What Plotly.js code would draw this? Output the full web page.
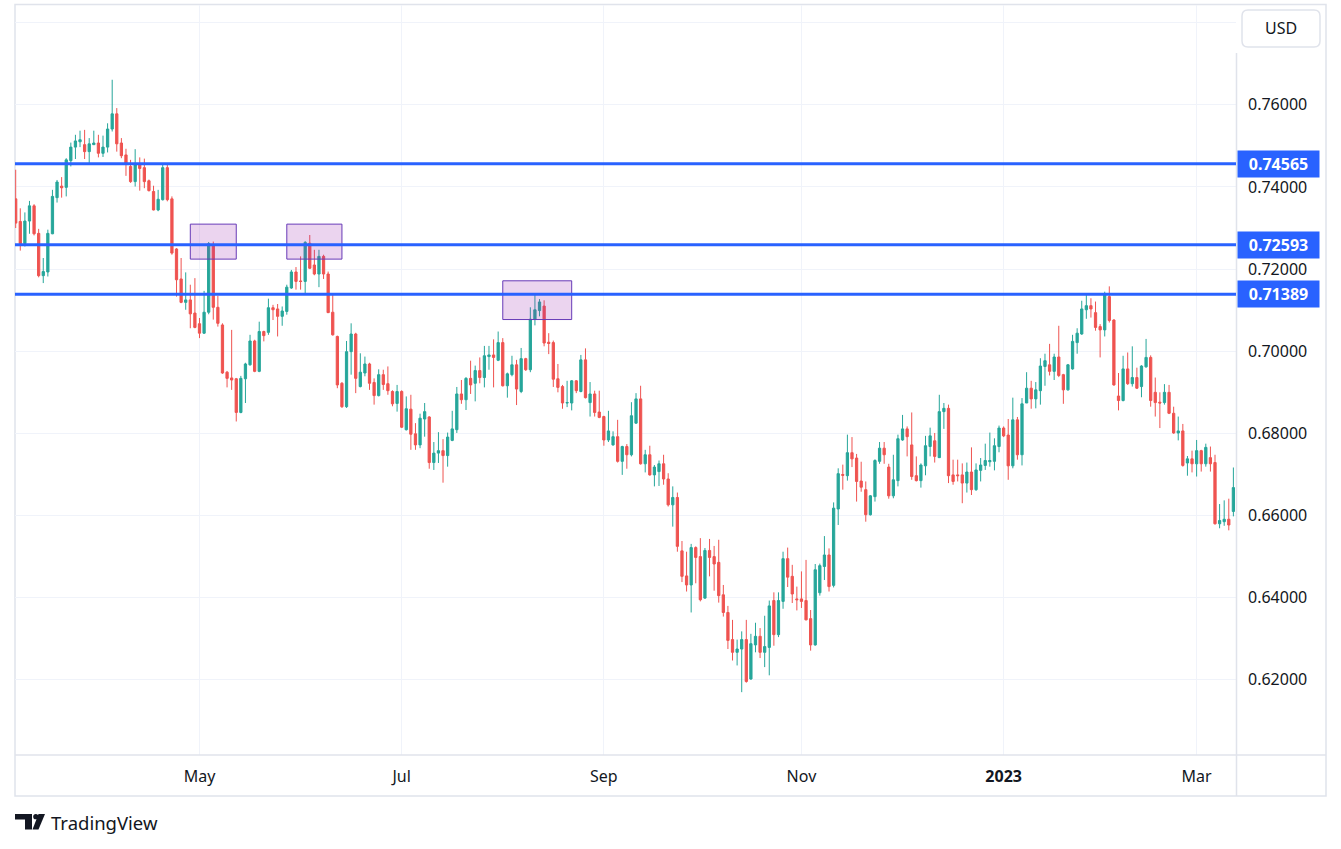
<!DOCTYPE html>
<html>
<head>
<meta charset="utf-8">
<script src="https://cdn.plot.ly/plotly-3.0.1.min.js"></script>
<style>
  html, body { margin: 0; padding: 0; background: #ffffff; }
  #chart { width: 1341px; height: 849px; }
</style>
</head>
<body>
<div id="chart"></div>
<script>
// AUD/USD daily candles, weekdays from 7 Mar 2022 to 13 Mar 2023
const firstDay = '2022-03-07';

const open = [
  // Mar 2022
  0.7371, 0.7316, 0.7262, 0.7317, 0.7354, 0.7287, 0.7184, 0.7193, 0.7286, 0.7374, 0.7402, 0.7399, 0.7464, 0.7497, 0.7510, 0.7503, 0.7486, 0.7503, 0.7507,
  // Apr
  0.7482, 0.7497, 0.7541, 0.7578, 0.7507, 0.7478, 0.7450, 0.7413, 0.7454, 0.7447, 0.7415, 0.7389, 0.7344, 0.7369, 0.7447, 0.7371, 0.7249, 0.7176, 0.7119, 0.7125, 0.7093,
  // May
  0.7067, 0.7044, 0.7095, 0.7257, 0.7107, 0.7064, 0.6949, 0.6935, 0.6933, 0.6851, 0.6933, 0.6967, 0.7025, 0.6951, 0.7048, 0.7046, 0.7106, 0.7103, 0.7085, 0.7097, 0.7154, 0.7193,
  // Jun
  0.7171, 0.7170, 0.7263, 0.7210, 0.7188, 0.7231, 0.7188, 0.7095, 0.7036, 0.6922, 0.6865, 0.6999, 0.7042, 0.6914, 0.6947, 0.6969, 0.6924, 0.6892, 0.6943, 0.6921, 0.6902, 0.6873,
  // Jul
  0.6902, 0.6809, 0.6859, 0.6799, 0.6772, 0.6835, 0.6840, 0.6729, 0.6752, 0.6758, 0.6746, 0.6783, 0.6809, 0.6896, 0.6882, 0.6934, 0.6922, 0.6953, 0.6936, 0.6987, 0.6991,
  // Aug
  0.6978, 0.7021, 0.6916, 0.6943, 0.6967, 0.6902, 0.6982, 0.6955, 0.7078, 0.7099, 0.7110, 0.7022, 0.7021, 0.6933, 0.6914, 0.6874, 0.6874, 0.6928, 0.6902, 0.6979, 0.6875, 0.6896, 0.6852,
  // Sep
  0.6841, 0.6784, 0.6772, 0.6792, 0.6732, 0.6768, 0.6748, 0.6825, 0.6884, 0.6726, 0.6748, 0.6699, 0.6707, 0.6726, 0.6689, 0.6626, 0.6644, 0.6514, 0.6453, 0.6431, 0.6522, 0.6500,
  // Oct
  0.6399, 0.6515, 0.6500, 0.6486, 0.6407, 0.6364, 0.6298, 0.6267, 0.6275, 0.6298, 0.6202, 0.6285, 0.6306, 0.6267, 0.6279, 0.6393, 0.6310, 0.6391, 0.6495, 0.6452, 0.6397,
  // Nov
  0.6397, 0.6393, 0.6349, 0.6285, 0.6412, 0.6476, 0.6504, 0.6430, 0.6616, 0.6700, 0.6697, 0.6753, 0.6740, 0.6684, 0.6663, 0.6602, 0.6646, 0.6732, 0.6764, 0.6718, 0.6648, 0.6685,
  // Dec
  0.6784, 0.6811, 0.6772, 0.6697, 0.6685, 0.6721, 0.6768, 0.6782, 0.6741, 0.6853, 0.6861, 0.6699, 0.6699, 0.6699, 0.6679, 0.6706, 0.6663, 0.6710, 0.6722, 0.6731, 0.6732, 0.6768,
  // Jan 2023
  0.6813, 0.6796, 0.6721, 0.6833, 0.6748, 0.6874, 0.6910, 0.6884, 0.6904, 0.6963, 0.6967, 0.6951, 0.6986, 0.6943, 0.6906, 0.6957, 0.7021, 0.7042, 0.7101, 0.7111, 0.7094, 0.7060,
  // Feb
  0.7052, 0.7133, 0.7076, 0.6891, 0.6880, 0.6957, 0.6921, 0.6936, 0.6914, 0.6962, 0.6985, 0.6900, 0.6876, 0.6875, 0.6900, 0.6849, 0.6801, 0.6806, 0.6728, 0.6738,
  // Mar
  0.6726, 0.6758, 0.6726, 0.6741, 0.6729, 0.6580, 0.6585, 0.6591, 0.6610
];

const high = [
  0.7442, 0.7348, 0.7338, 0.7366, 0.7358, 0.7298, 0.7227, 0.7296, 0.7393, 0.7417, 0.7424, 0.7470, 0.7508, 0.7527, 0.7537, 0.7539, 0.7519, 0.7537, 0.7527,
  0.7525, 0.7555, 0.7661, 0.7592, 0.7519, 0.7493, 0.7466, 0.7492, 0.7472, 0.7469, 0.7418, 0.7403, 0.7393, 0.7456, 0.7458, 0.7377, 0.7251, 0.7227, 0.7192, 0.7162, 0.7178,
  0.7081, 0.7147, 0.7266, 0.7267, 0.7135, 0.7068, 0.6952, 0.7052, 0.6935, 0.6940, 0.6972, 0.7040, 0.7028, 0.7072, 0.7050, 0.7128, 0.7113, 0.7115, 0.7109, 0.7162, 0.7198, 0.7205,
  0.7231, 0.7268, 0.7283, 0.7247, 0.7247, 0.7235, 0.7194, 0.7137, 0.7038, 0.6925, 0.7025, 0.7068, 0.7045, 0.6995, 0.6987, 0.6972, 0.6934, 0.6956, 0.6955, 0.6963, 0.6905, 0.6918,
  0.6905, 0.6890, 0.6894, 0.6825, 0.6848, 0.6874, 0.6842, 0.6779, 0.6803, 0.6786, 0.6802, 0.6855, 0.6913, 0.6930, 0.6937, 0.6977, 0.6965, 0.6985, 0.7013, 0.7013, 0.7029,
  0.7048, 0.7032, 0.6948, 0.6989, 0.6979, 0.7008, 0.6984, 0.7107, 0.7137, 0.7127, 0.7124, 0.7044, 0.7026, 0.6969, 0.6918, 0.6928, 0.6930, 0.6930, 0.6991, 0.7007, 0.6925, 0.6904, 0.6904,
  0.6843, 0.6855, 0.6805, 0.6833, 0.6770, 0.6774, 0.6876, 0.6898, 0.6916, 0.6760, 0.6770, 0.6723, 0.6734, 0.6748, 0.6703, 0.6671, 0.6656, 0.6538, 0.6512, 0.6531, 0.6525, 0.6545,
  0.6521, 0.6543, 0.6526, 0.6541, 0.6431, 0.6380, 0.6346, 0.6298, 0.6318, 0.6346, 0.6312, 0.6339, 0.6326, 0.6356, 0.6393, 0.6413, 0.6413, 0.6512, 0.6522, 0.6480, 0.6427,
  0.6464, 0.6492, 0.6370, 0.6482, 0.6483, 0.6550, 0.6520, 0.6632, 0.6715, 0.6724, 0.6797, 0.6791, 0.6750, 0.6731, 0.6683, 0.6650, 0.6737, 0.6779, 0.6779, 0.6726, 0.6748, 0.6797,
  0.6845, 0.6817, 0.6851, 0.6744, 0.6727, 0.6794, 0.6814, 0.6801, 0.6894, 0.6874, 0.6870, 0.6736, 0.6736, 0.6727, 0.6729, 0.6766, 0.6727, 0.6740, 0.6775, 0.6802, 0.6788, 0.6819,
  0.6817, 0.6835, 0.6887, 0.6840, 0.6886, 0.6949, 0.6928, 0.6925, 0.6983, 0.6994, 0.7018, 0.6994, 0.7062, 0.6945, 0.6969, 0.7040, 0.7056, 0.7123, 0.7141, 0.7129, 0.7121, 0.7066,
  0.7145, 0.7158, 0.7078, 0.6947, 0.6989, 0.6997, 0.7012, 0.6960, 0.6966, 0.7030, 0.6990, 0.6936, 0.6900, 0.6920, 0.6918, 0.6865, 0.6841, 0.6823, 0.6745, 0.6758,
  0.6784, 0.6760, 0.6775, 0.6768, 0.6748, 0.6628, 0.6637, 0.6641, 0.6717
];

const low = [
  0.7300, 0.7245, 0.7255, 0.7286, 0.7282, 0.7180, 0.7166, 0.7182, 0.7285, 0.7362, 0.7374, 0.7377, 0.7450, 0.7468, 0.7497, 0.7468, 0.7458, 0.7502, 0.7472,
  0.7473, 0.7484, 0.7535, 0.7486, 0.7470, 0.7427, 0.7410, 0.7401, 0.7391, 0.7397, 0.7389, 0.7343, 0.7341, 0.7367, 0.7365, 0.7235, 0.7133, 0.7117, 0.7101, 0.7056, 0.7056,
  0.7032, 0.7042, 0.7090, 0.7077, 0.7060, 0.6945, 0.6912, 0.6906, 0.6829, 0.6849, 0.6874, 0.6965, 0.6949, 0.6949, 0.7024, 0.7040, 0.7076, 0.7036, 0.7062, 0.7089, 0.7152, 0.7150,
  0.7150, 0.7139, 0.7200, 0.7185, 0.7156, 0.7176, 0.7093, 0.7038, 0.6910, 0.6862, 0.6862, 0.6943, 0.6898, 0.6912, 0.6939, 0.6906, 0.6870, 0.6890, 0.6906, 0.6894, 0.6866, 0.6853,
  0.6813, 0.6807, 0.6760, 0.6760, 0.6764, 0.6792, 0.6714, 0.6711, 0.6728, 0.6680, 0.6719, 0.6781, 0.6801, 0.6872, 0.6857, 0.6896, 0.6878, 0.6922, 0.6912, 0.6955, 0.6912,
  0.6976, 0.6914, 0.6887, 0.6939, 0.6869, 0.6898, 0.6952, 0.6949, 0.7063, 0.7085, 0.7012, 0.6993, 0.6913, 0.6900, 0.6860, 0.6864, 0.6856, 0.6898, 0.6900, 0.6885, 0.6841, 0.6841, 0.6837,
  0.6770, 0.6779, 0.6770, 0.6729, 0.6699, 0.6714, 0.6744, 0.6823, 0.6724, 0.6705, 0.6697, 0.6671, 0.6672, 0.6675, 0.6622, 0.6573, 0.6512, 0.6438, 0.6415, 0.6364, 0.6435, 0.6391,
  0.6397, 0.6452, 0.6417, 0.6388, 0.6354, 0.6275, 0.6247, 0.6235, 0.6170, 0.6193, 0.6200, 0.6267, 0.6253, 0.6231, 0.6211, 0.6283, 0.6304, 0.6373, 0.6426, 0.6387, 0.6369,
  0.6375, 0.6345, 0.6271, 0.6283, 0.6405, 0.6443, 0.6415, 0.6425, 0.6577, 0.6663, 0.6685, 0.6718, 0.6634, 0.6658, 0.6585, 0.6600, 0.6634, 0.6726, 0.6726, 0.6641, 0.6642, 0.6671,
  0.6782, 0.6744, 0.6687, 0.6683, 0.6668, 0.6698, 0.6744, 0.6729, 0.6740, 0.6811, 0.6679, 0.6675, 0.6683, 0.6630, 0.6656, 0.6650, 0.6660, 0.6683, 0.6711, 0.6719, 0.6710, 0.6754,
  0.6791, 0.6687, 0.6715, 0.6736, 0.6722, 0.6874, 0.6860, 0.6861, 0.6870, 0.6916, 0.6941, 0.6930, 0.6937, 0.6872, 0.6904, 0.6955, 0.6994, 0.7040, 0.7079, 0.7082, 0.7050, 0.6985,
  0.7036, 0.7070, 0.6916, 0.6856, 0.6878, 0.6918, 0.6914, 0.6908, 0.6888, 0.6960, 0.6865, 0.6841, 0.6813, 0.6870, 0.6847, 0.6799, 0.6783, 0.6719, 0.6697, 0.6705,
  0.6695, 0.6707, 0.6719, 0.6707, 0.6578, 0.6569, 0.6575, 0.6564, 0.6598
];

const close = [
  0.7312, 0.7262, 0.7317, 0.7354, 0.7286, 0.7184, 0.7194, 0.7287, 0.7377, 0.7412, 0.7398, 0.7466, 0.7497, 0.7512, 0.7515, 0.7486, 0.7505, 0.7507, 0.7482,
  0.7497, 0.7541, 0.7578, 0.7505, 0.7476, 0.7458, 0.7413, 0.7454, 0.7445, 0.7413, 0.7391, 0.7344, 0.7370, 0.7447, 0.7369, 0.7239, 0.7174, 0.7119, 0.7125, 0.7091, 0.7058,
  0.7044, 0.7095, 0.7262, 0.7107, 0.7068, 0.6947, 0.6934, 0.6930, 0.6851, 0.6934, 0.6969, 0.7025, 0.6951, 0.7048, 0.7038, 0.7106, 0.7101, 0.7085, 0.7098, 0.7156, 0.7193, 0.7170,
  0.7170, 0.7265, 0.7202, 0.7188, 0.7231, 0.7188, 0.7094, 0.7040, 0.6918, 0.6865, 0.6999, 0.7042, 0.6934, 0.6949, 0.6969, 0.6922, 0.6892, 0.6943, 0.6919, 0.6904, 0.6872, 0.6902,
  0.6815, 0.6860, 0.6798, 0.6772, 0.6837, 0.6853, 0.6729, 0.6752, 0.6758, 0.6746, 0.6791, 0.6811, 0.6896, 0.6882, 0.6934, 0.6918, 0.6953, 0.6936, 0.6989, 0.6991, 0.6985,
  0.7021, 0.6916, 0.6945, 0.6967, 0.6908, 0.6982, 0.6955, 0.7078, 0.7101, 0.7120, 0.7020, 0.7019, 0.6932, 0.6912, 0.6874, 0.6875, 0.6928, 0.6904, 0.6979, 0.6887, 0.6896, 0.6851, 0.6839,
  0.6784, 0.6806, 0.6792, 0.6732, 0.6768, 0.6748, 0.6843, 0.6884, 0.6726, 0.6748, 0.6699, 0.6718, 0.6726, 0.6689, 0.6626, 0.6644, 0.6525, 0.6452, 0.6431, 0.6522, 0.6498, 0.6395,
  0.6515, 0.6498, 0.6482, 0.6405, 0.6364, 0.6296, 0.6267, 0.6275, 0.6298, 0.6196, 0.6288, 0.6306, 0.6267, 0.6281, 0.6380, 0.6310, 0.6393, 0.6495, 0.6450, 0.6409, 0.6395,
  0.6391, 0.6346, 0.6285, 0.6468, 0.6478, 0.6504, 0.6427, 0.6618, 0.6702, 0.6698, 0.6753, 0.6738, 0.6683, 0.6669, 0.6602, 0.6648, 0.6734, 0.6764, 0.6748, 0.6648, 0.6687, 0.6787,
  0.6811, 0.6792, 0.6695, 0.6685, 0.6723, 0.6770, 0.6794, 0.6744, 0.6853, 0.6861, 0.6697, 0.6683, 0.6697, 0.6679, 0.6706, 0.6663, 0.6711, 0.6723, 0.6734, 0.6734, 0.6770, 0.6813,
  0.6794, 0.6721, 0.6833, 0.6748, 0.6872, 0.6910, 0.6884, 0.6906, 0.6964, 0.6977, 0.6951, 0.6986, 0.6941, 0.6906, 0.6967, 0.7024, 0.7044, 0.7103, 0.7111, 0.7103, 0.7058, 0.7052,
  0.7137, 0.7075, 0.6918, 0.6880, 0.6957, 0.6921, 0.6936, 0.6910, 0.6964, 0.6985, 0.6880, 0.6875, 0.6874, 0.6900, 0.6849, 0.6801, 0.6806, 0.6722, 0.6738, 0.6726,
  0.6758, 0.6726, 0.6766, 0.6726, 0.6580, 0.6588, 0.6591, 0.6577, 0.6668
];

// drawn horizontal levels and highlighted zones
const levels = [0.74565, 0.72593, 0.71389];
const zoneStart = ['2022-04-28', '2022-05-27', '2022-08-02'];
const zoneEnd = ['2022-05-12', '2022-06-14', '2022-08-23'];
const zoneLow = [0.72243, 0.72243, 0.70772];
const zoneHigh = [0.73095, 0.73095, 0.71715];

const monthTicks = ['2022-05-02', '2022-07-01', '2022-09-01', '2022-11-01', '2023-01-02', '2023-03-01'];
const monthLabels = ['May', 'Jul', 'Sep', 'Nov', '<b>2023</b>', 'Mar'];
const priceTicks = [0.62, 0.64, 0.66, 0.68, 0.70, 0.72, 0.74, 0.76, 0.78];

// trading days (weekends skipped, like the bar index of the original)
const dates = [];
let d = new Date(firstDay + 'T00:00:00Z');
while (dates.length < open.length) {
    const wd = d.getUTCDay();
    if (wd !== 0 && wd !== 6) dates.push(d.toISOString().slice(0, 10));
    d.setUTCDate(d.getUTCDate() + 1);
}

const W = 1341, H = 849;
const M = { l: 15, r: 105, t: 5, b: 94 };
const pw = W - M.l - M.r, ph = H - M.t - M.b;
const px = v => (v - M.l) / pw;
const py = v => (H - M.b - v) / ph;

function roundRect(x0, y0, x1, y1, r) {
    return 'M' + px(x0 + r) + ',' + py(y0) +
        ' L' + px(x1 - r) + ',' + py(y0) +
        ' Q' + px(x1) + ',' + py(y0) + ' ' + px(x1) + ',' + py(y0 + r) +
        ' L' + px(x1) + ',' + py(y1 - r) +
        ' Q' + px(x1) + ',' + py(y1) + ' ' + px(x1 - r) + ',' + py(y1) +
        ' L' + px(x0 + r) + ',' + py(y1) +
        ' Q' + px(x0) + ',' + py(y1) + ' ' + px(x0) + ',' + py(y1 - r) +
        ' L' + px(x0) + ',' + py(y0 + r) +
        ' Q' + px(x0) + ',' + py(y0) + ' ' + px(x0 + r) + ',' + py(y0) + ' Z';
}
function poly(points) {
    return 'M' + points.map(p => px(p[0]) + ',' + py(p[1])).join(' L') + ' Z';
}

const frameColor = '#e0e3eb';
const textColor = '#131722';
const fontFamily = '"Noto Sans", "Open Sans", sans-serif';

const shapes = [];
// chart frame, time-axis and price-axis separators
shapes.push({ type: 'rect', xref: 'paper', yref: 'paper', x0: px(15), x1: px(1326), y0: py(796), y1: py(4.5),
    line: { color: frameColor, width: 1.5 }, fillcolor: 'rgba(0,0,0,0)', layer: 'below' });
shapes.push({ type: 'line', xref: 'paper', yref: 'paper', x0: px(15), x1: px(1326), y0: py(755), y1: py(755),
    line: { color: frameColor, width: 1.5 } });
shapes.push({ type: 'line', xref: 'paper', yref: 'paper', x0: px(1236.5), x1: px(1236.5), y0: py(796), y1: py(53),
    line: { color: frameColor, width: 1.5 } });
// USD box
shapes.push({ type: 'path', xref: 'paper', yref: 'paper', path: roundRect(1242, 10, 1320, 47, 6),
    line: { color: frameColor, width: 1.5 }, fillcolor: '#ffffff' });

// zones
zoneStart.forEach((s, i) => {
    shapes.push({ type: 'rect', xref: 'x', yref: 'y', layer: 'above',
        x0: dates.indexOf(s), x1: dates.indexOf(zoneEnd[i]), y0: zoneLow[i], y1: zoneHigh[i],
        fillcolor: 'rgba(156,39,176,0.2)', line: { color: '#673ab7', width: 1 } });
});
// levels
levels.forEach(v => {
    shapes.push({ type: 'line', xref: 'paper', yref: 'y', layer: 'above', x0: 0, x1: 1, y0: v, y1: v,
        line: { color: '#2962ff', width: 3 } });
});

// TradingView logo mark
shapes.push({ type: 'path', xref: 'paper', yref: 'paper', line: { width: 0 }, fillcolor: textColor,
    path: poly([[15, 814], [32, 814], [32, 829.5], [25, 829.5], [25, 819.5], [15, 819.5]]) });
shapes.push({ type: 'circle', xref: 'paper', yref: 'paper', line: { width: 0 }, fillcolor: textColor,
    x0: px(33.2), x1: px(38.4), y0: py(819.3), y1: py(814.1) });
shapes.push({ type: 'path', xref: 'paper', yref: 'paper', line: { width: 0 }, fillcolor: textColor,
    path: poly([[38.5, 814], [45, 814], [38.5, 829.5], [32.5, 829.5]]) });

const annotations = [];
levels.forEach(v => {
    annotations.push({ xref: 'paper', yref: 'y', x: 1, y: v, xanchor: 'left', yanchor: 'middle', xshift: 1,
        text: '<b>' + v.toFixed(5) + '</b>', showarrow: false, bgcolor: '#2962ff', align: 'center',
        width: 73, height: 18, borderpad: 4, font: { family: fontFamily, size: 16, color: '#ffffff' } });
});
annotations.push({ xref: 'paper', yref: 'paper', x: px(1281), y: py(28.5), xanchor: 'center', yanchor: 'middle',
    text: 'USD', showarrow: false, font: { family: fontFamily, size: 16, color: textColor } });
annotations.push({ xref: 'paper', yref: 'paper', x: px(49), y: py(822), xanchor: 'left', yanchor: 'middle',
    text: 'TradingView', showarrow: false, font: { family: fontFamily, size: 18.5, color: textColor } });

const trace = {
    type: 'candlestick',
    x: dates,
    open: open,
    high: high,
    low: low,
    close: close,
    whiskerwidth: 0,
    increasing: { line: { color: '#26a69a', width: 1 }, fillcolor: '#26a69a' },
    decreasing: { line: { color: '#ef5350', width: 1 }, fillcolor: '#ef5350' },
    hoverinfo: 'skip'
};

const layout = {
    width: W,
    height: H,
    margin: M,
    paper_bgcolor: '#ffffff',
    plot_bgcolor: '#ffffff',
    showlegend: false,
    hovermode: false,
    font: { family: fontFamily, size: 16, color: textColor },
    xaxis: {
        type: 'category',
        range: [-0.15, 265.57],
        tickvals: monthTicks,
        ticktext: monthLabels,
        showgrid: true,
        gridcolor: '#f0f3fa',
        gridwidth: 1,
        ticks: '',
        ticklabelstandoff: 10,
        tickfont: { family: fontFamily, size: 16, color: textColor },
        zeroline: false,
        showline: false,
        rangeslider: { visible: false },
        fixedrange: true
    },
    yaxis: {
        side: 'right',
        range: [0.6017, 0.7843],
        tickvals: priceTicks,
        ticktext: priceTicks.map(v => v > 0.77 ? '' : v.toFixed(5)),
        showgrid: true,
        gridcolor: '#f0f3fa',
        gridwidth: 1,
        ticks: '',
        ticklabelstandoff: 11,
        tickfont: { family: fontFamily, size: 16, color: textColor },
        zeroline: false,
        showline: false,
        fixedrange: true
    },
    shapes: shapes,
    annotations: annotations
};

Plotly.newPlot('chart', [trace], layout, { displayModeBar: false, staticPlot: true });
</script>
</body>
</html>
